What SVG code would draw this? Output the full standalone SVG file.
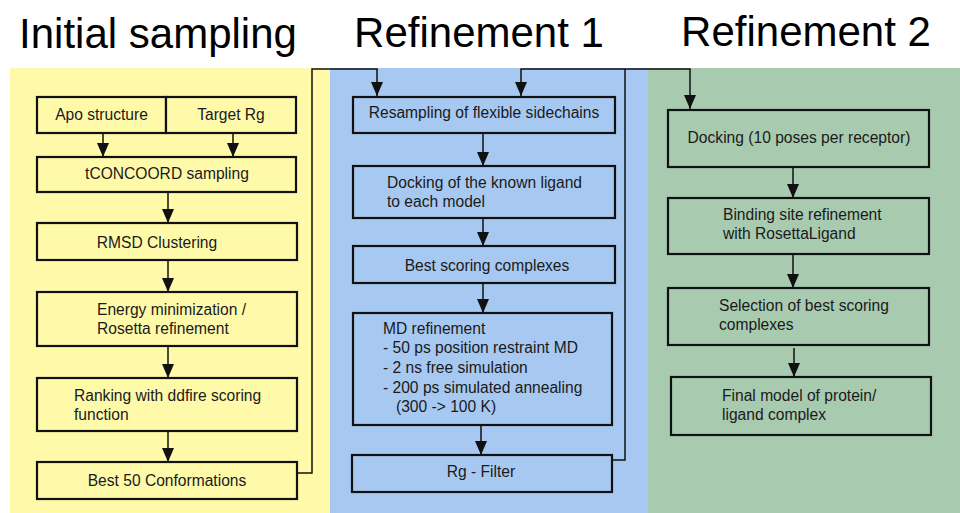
<svg xmlns="http://www.w3.org/2000/svg" width="960" height="513" viewBox="0 0 960 513">
<style>
.box{stroke:#111;stroke-width:2.2;}
.y{fill:#fffaaa;}
.b{fill:#a7c9f1;}
.g{fill:#a8cbb0;}
text{font-family:"Liberation Sans",Arial,sans-serif;font-size:15.6px;fill:#1a1a1a;}
.c{text-anchor:middle;}
.title{font-size:42px;fill:#000;text-anchor:middle;}
.conn{stroke:#111;stroke-width:1.5;fill:none;}
</style>
<defs>
<marker id="ah" viewBox="0 0 14 12" refX="14" refY="6" markerWidth="14" markerHeight="12" markerUnits="userSpaceOnUse" orient="auto">
<path d="M0,0 L14,6 L0,12 z" fill="#111"/>
</marker>
</defs>
<rect x="0" y="0" width="960" height="513" fill="#fff"/>
<g id="panels">
<rect x="10" y="68" width="320" height="445" fill="#fffaaa"/>
<rect x="330" y="68" width="318" height="445" fill="#a7c9f1"/>
<rect x="648" y="68" width="312" height="445" fill="#a8cbb0"/>
</g>
<g id="titles">
<text class="title" x="158" y="48">Initial sampling</text>
<text class="title" x="479" y="47">Refinement 1</text>
<text class="title" x="806" y="46">Refinement 2</text>
</g>
<g id="connectors">
<line class="conn" x1="103" y1="133" x2="103" y2="157" marker-end="url(#ah)"/>
<line class="conn" x1="233" y1="133" x2="233" y2="157" marker-end="url(#ah)"/>
<line class="conn" x1="168" y1="192" x2="168" y2="223" marker-end="url(#ah)"/>
<line class="conn" x1="168" y1="260" x2="168" y2="292" marker-end="url(#ah)"/>
<line class="conn" x1="168" y1="346" x2="168" y2="378" marker-end="url(#ah)"/>
<line class="conn" x1="168" y1="431" x2="168" y2="462" marker-end="url(#ah)"/>
<polyline class="conn" points="297,473 312,473 312,69 377,69 377,96" marker-end="url(#ah)"/>
<polyline class="conn" points="612,460 625,460 625,69"/>
<polyline class="conn" points="625,69 521,69 521,96" marker-end="url(#ah)"/>
<polyline class="conn" points="625,69 690,69 690,109" marker-end="url(#ah)"/>
<line class="conn" x1="483" y1="133" x2="483" y2="166" marker-end="url(#ah)"/>
<line class="conn" x1="483" y1="218" x2="483" y2="246" marker-end="url(#ah)"/>
<line class="conn" x1="483" y1="283" x2="483" y2="313" marker-end="url(#ah)"/>
<line class="conn" x1="481" y1="425" x2="481" y2="455" marker-end="url(#ah)"/>
<line class="conn" x1="793" y1="167" x2="793" y2="198" marker-end="url(#ah)"/>
<line class="conn" x1="793" y1="254" x2="793" y2="288" marker-end="url(#ah)"/>
<line class="conn" x1="794" y1="348" x2="794" y2="377" marker-end="url(#ah)"/>
</g>
<g id="apo"><rect class="box y" x="37" y="97" width="129" height="36"/><text class="c" x="101.5" y="120">Apo structure</text></g>
<g id="targetrg"><rect class="box y" x="166" y="97" width="130" height="36"/><text class="c" x="231" y="120">Target Rg</text></g>
<g id="tconcoord"><rect class="box y" x="37" y="157" width="259" height="35"/><text class="c" x="167" y="179">tCONCOORD sampling</text></g>
<g id="rmsd"><rect class="box y" x="37" y="223" width="260" height="37"/><text class="c" x="157" y="248">RMSD Clustering</text></g>
<g id="energy"><rect class="box y" x="37" y="292" width="260" height="54"/><text x="97" y="315">Energy minimization /</text><text x="97" y="334">Rosetta refinement</text></g>
<g id="ranking"><rect class="box y" x="37" y="378" width="260" height="53"/><text x="74" y="401">Ranking with ddfire scoring</text><text x="74" y="420">function</text></g>
<g id="best50"><rect class="box y" x="37" y="462" width="260" height="37"/><text class="c" x="167" y="486">Best 50 Conformations</text></g>
<g id="resampling"><rect class="box b" x="353" y="97" width="262" height="36"/><text class="c" x="484" y="118">Resampling of flexible sidechains</text></g>
<g id="dockknown"><rect class="box b" x="353" y="166" width="262" height="52"/><text x="387" y="188">Docking of the known ligand</text><text x="387" y="207">to each model</text></g>
<g id="bestscoring"><rect class="box b" x="353" y="246" width="262" height="37"/><text class="c" x="487" y="271">Best scoring complexes</text></g>
<g id="mdref"><rect class="box b" x="353" y="313" width="259" height="112"/><text x="383" y="334">MD refinement</text><text x="383" y="353">- 50 ps position restraint MD</text><text x="383" y="373">- 2 ns free simulation</text><text x="383" y="393">- 200 ps simulated annealing</text><text x="396" y="412">(300 -&gt; 100 K)</text></g>
<g id="rgfilter"><rect class="box b" x="352" y="455" width="260" height="37"/><text class="c" x="481" y="477">Rg - Filter</text></g>
<g id="docking10"><rect class="box g" x="668" y="110" width="261" height="57"/><text class="c" x="799" y="143">Docking (10 poses per receptor)</text></g>
<g id="bindingsite"><rect class="box g" x="668" y="198" width="261" height="56"/><text x="723" y="220">Binding site refinement</text><text x="723" y="239">with RosettaLigand</text></g>
<g id="selection"><rect class="box g" x="668" y="288" width="261" height="57"/><text x="719" y="311">Selection of best scoring</text><text x="719" y="330">complexes</text></g>
<g id="finalmodel"><rect class="box g" x="671" y="377" width="260" height="58"/><text x="722" y="401">Final model of protein/</text><text x="722" y="420">ligand complex</text></g>
</svg>
